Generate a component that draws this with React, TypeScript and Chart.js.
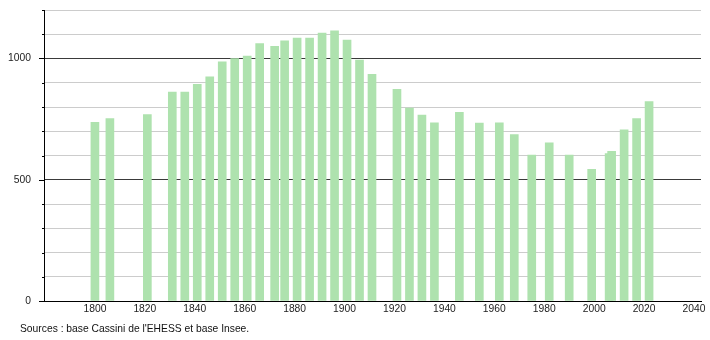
import React, { useEffect, useRef } from "react";
import { Chart, registerables } from "chart.js";

Chart.register(...registerables);

const years = [1800, 1806, 1821, 1831, 1836, 1841, 1846, 1851, 1856, 1861, 1866, 1872, 1876, 1881, 1886, 1891, 1896, 1901, 1906, 1911, 1921, 1926, 1931, 1936, 1946, 1954, 1962, 1968, 1975, 1982, 1990, 1999, 2006, 2007, 2012, 2017, 2022];
const population = [737, 752, 769, 862, 862, 894, 924, 986, 1000, 1010, 1062, 1050, 1073, 1084, 1084, 1105, 1114, 1076, 993, 935, 873, 796, 767, 735, 778, 734, 735, 686, 602, 652, 602, 543, 608, 617, 706, 752, 822];
const xTickLabels = [1800, 1820, 1840, 1860, 1880, 1900, 1920, 1940, 1960, 1980, 2000, 2020, 2040];
const yLabelValues = [0, 500, 1000];
const sourceText = "Sources : base Cassini de l'EHESS et base Insee.";

const FONT = "'Liberation Sans', Arial, Helvetica, sans-serif";

export default function App() {
  const ref = useRef<HTMLCanvasElement | null>(null);

  useEffect(() => {
    document.body.style.margin = "0";
    const canvas = ref.current;
    if (!canvas) return;

    const yTickMarks = {
      id: "yTickMarks",
      afterDraw(chart: any) {
        const ys = chart.scales.y;
        const ctx = chart.ctx;
        const left = chart.chartArea.left;
        ctx.save();
        ctx.strokeStyle = "#000";
        ctx.lineWidth = 1;
        for (let v = 0; v <= 1200; v += 100) {
          const py = Math.round(ys.getPixelForValue(v)) + 0.5;
          const len = yLabelValues.includes(v) ? 5 : 2;
          ctx.beginPath();
          ctx.moveTo(left - len, py);
          ctx.lineTo(left, py);
          ctx.stroke();
        }
        ctx.restore();
      },
    };

    const chart = new Chart(canvas, {
      type: "bar",
      data: {
        datasets: [
          {
            data: years.map((yr, i) => ({ x: yr, y: population[i] })),
            backgroundColor: "rgb(174, 226, 174)",
            borderWidth: 0,
            barThickness: 8,
            grouped: false,
          } as any,
        ],
      },
      options: {
        responsive: false,
        animation: false,
        events: [],
        layout: { padding: { top: 10, right: 9, left: 0, bottom: 0 } },
        plugins: {
          legend: { display: false },
          tooltip: { enabled: false },
        },
        scales: {
          x: {
            type: "linear",
            offset: false,
            min: 1779.6,
            max: 2042.8,
            afterFit: (s: any) => {
              s.height = 39;
              s.paddingLeft = 0;
              s.paddingRight = 0;
            },
            afterBuildTicks: (s: any) => {
              s.ticks = xTickLabels.map((v) => ({ value: v }));
            },
            grid: { display: false, drawTicks: false, offset: false },
            border: { display: true, color: "#000", width: 1 },
            ticks: {
              padding: 2,
              color: "#222",
              font: { family: FONT, size: 10.3 },
              maxRotation: 0,
              autoSkip: false,
              callback: (v: any) => String(v),
            },
          },
          y: {
            type: "linear",
            min: 0,
            max: 1200,
            afterFit: (s: any) => {
              s.width = 44;
              s.paddingTop = 0;
              s.paddingBottom = 0;
            },
            grid: {
              drawTicks: false,
              lineWidth: 1,
              color: (c: any) => (c.tick && c.tick.value % 500 === 0 ? "#3a3a3a" : "#cccccc"),
            },
            border: { display: true, color: "#000", width: 1 },
            ticks: {
              stepSize: 100,
              padding: 13,
              color: "#222",
              font: { family: FONT, size: 10.3 },
              autoSkip: false,
              callback: (v: any) => (yLabelValues.includes(Number(v)) ? String(v) : ""),
            },
          },
        },
      },
      plugins: [yTickMarks],
    });

    return () => chart.destroy();
  }, []);

  return (
    <div style={{ position: "fixed", left: 0, top: 0, width: 710, height: 340, background: "#fff" }}>
      <canvas ref={ref} width={710} height={340} style={{ display: "block", width: 710, height: 340 }} />
      <div
        style={{
          position: "absolute",
          left: 20,
          top: 323,
          fontFamily: FONT,
          fontSize: 10.3,
          lineHeight: "12px",
          color: "#111",
          whiteSpace: "nowrap",
        }}
      >
        {sourceText}
      </div>
    </div>
  );
}
